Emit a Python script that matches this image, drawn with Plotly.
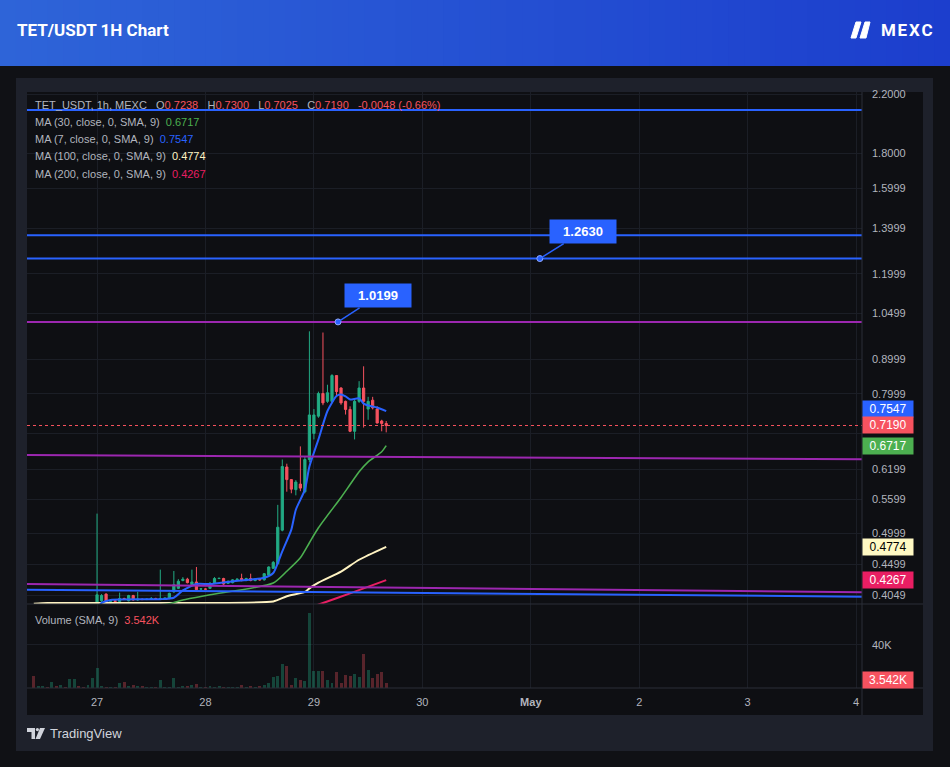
import math
import pandas as pd
import plotly.graph_objects as go

# ------------------------------------------------------------------ data
START = "2024-04-26 10:00"          # first hourly candle
opens = [0.392, 0.386, 0.387, 0.3875, 0.387, 0.390, 0.389, 0.391, 0.388, 0.389,
         0.392, 0.390, 0.389, 0.390, 0.388, 0.398, 0.407, 0.397, 0.398, 0.397,
         0.401, 0.398, 0.405, 0.399, 0.400, 0.3995, 0.400, 0.401, 0.400, 0.401,
         0.401, 0.410, 0.415, 0.426, 0.428, 0.420, 0.424, 0.414, 0.414, 0.415,
         0.422, 0.429, 0.429, 0.422, 0.423, 0.427, 0.429, 0.426, 0.429, 0.426,
         0.428, 0.427, 0.434, 0.444, 0.451, 0.505, 0.625, 0.599, 0.579, 0.590,
         0.575, 0.641, 0.700, 0.742, 0.801, 0.780, 0.780, 0.851, 0.816, 0.780,
         0.759, 0.705, 0.780, 0.816, 0.760, 0.783, 0.760, 0.730, 0.7238]
highs = [0.393, 0.388, 0.388, 0.388, 0.391, 0.391, 0.392, 0.392, 0.393, 0.393,
         0.393, 0.391, 0.392, 0.393, 0.534, 0.407, 0.408, 0.399, 0.399, 0.409,
         0.402, 0.406, 0.406, 0.410, 0.401, 0.401, 0.403, 0.402, 0.442, 0.402,
         0.409, 0.440, 0.428, 0.431, 0.430, 0.442, 0.446, 0.415, 0.415, 0.424,
         0.431, 0.430, 0.430, 0.426, 0.428, 0.429, 0.436, 0.430, 0.436, 0.429,
         0.429, 0.437, 0.447, 0.455, 0.550, 0.641, 0.632, 0.600, 0.598, 0.670,
         0.648, 0.988, 0.760, 0.806, 0.984, 0.825, 0.855, 0.851, 0.818, 0.782,
         0.767, 0.785, 0.835, 0.878, 0.792, 0.792, 0.767, 0.733, 0.7300]
lows = [0.385, 0.385, 0.386, 0.386, 0.386, 0.388, 0.388, 0.389, 0.386, 0.387,
        0.389, 0.388, 0.388, 0.388, 0.386, 0.396, 0.396, 0.395, 0.396, 0.396,
        0.399, 0.397, 0.398, 0.398, 0.399, 0.399, 0.399, 0.400, 0.399, 0.400,
        0.400, 0.409, 0.414, 0.425, 0.422, 0.419, 0.412, 0.413, 0.413, 0.414,
        0.421, 0.428, 0.420, 0.421, 0.422, 0.426, 0.425, 0.425, 0.425, 0.425,
        0.426, 0.426, 0.433, 0.443, 0.450, 0.503, 0.575, 0.572, 0.568, 0.576,
        0.572, 0.635, 0.686, 0.738, 0.770, 0.776, 0.775, 0.794, 0.771, 0.746,
        0.703, 0.686, 0.776, 0.714, 0.733, 0.759, 0.724, 0.705, 0.7025]
closes = [0.386, 0.387, 0.3875, 0.387, 0.390, 0.389, 0.391, 0.390, 0.391, 0.392,
          0.390, 0.389, 0.391, 0.392, 0.406, 0.405, 0.397, 0.398, 0.397, 0.401,
          0.400, 0.405, 0.399, 0.400, 0.3995, 0.400, 0.401, 0.4005, 0.401, 0.4015,
          0.408, 0.420, 0.425, 0.428, 0.423, 0.424, 0.413, 0.4142, 0.4138, 0.422,
          0.429, 0.4292, 0.421, 0.425, 0.427, 0.428, 0.426, 0.429, 0.426, 0.428,
          0.427, 0.436, 0.446, 0.453, 0.510, 0.626, 0.599, 0.580, 0.594, 0.582,
          0.641, 0.745, 0.745, 0.801, 0.776, 0.803, 0.851, 0.806, 0.776, 0.759,
          0.705, 0.780, 0.816, 0.780, 0.780, 0.763, 0.725, 0.724, 0.7190]
volumes = [11400, 2000, 1500, 1000, 5800, 1500, 3000, 1000, 8600, 8600,
           2000, 1000, 3000, 9000, 19000, 2000, 1000, 1000, 1000, 4500,
           5800, 1500, 2800, 1500, 2000, 1000, 1000, 1000, 7700, 1000,
           1000, 9000, 1000, 2000, 1500, 2800, 4000, 1000, 800, 1500,
           1000, 1500, 1000, 1200, 1000, 1000, 2500, 1000, 1500, 1000,
           2000, 3000, 5000, 10000, 11000, 22500, 20000, 3000, 9500, 7700,
           6800, 70000, 16000, 15700, 16000, 7700, 5000, 15000, 4600, 12000,
           10800, 13000, 10000, 31700, 17000, 9500, 13000, 15000, 4600]

# moving averages (hour index from first candle, value)
ma7_hours = [0, 14, 15, 17, 28, 31, 33, 36, 39, 44, 51, 53, 54, 55, 57, 58, 60, 61,
             63, 65, 67, 68, 69, 70, 72, 73, 74, 76, 78]
ma7_values = [0.386, 0.389, 0.395, 0.399, 0.400, 0.402, 0.412, 0.421, 0.421, 0.425,
              0.430, 0.437, 0.452, 0.470, 0.506, 0.541, 0.579, 0.626, 0.686, 0.755,
              0.794, 0.798, 0.793, 0.785, 0.788, 0.774, 0.769, 0.764, 0.7547]
ma30_hours = [0, 20, 30, 33, 39, 53, 56, 59, 61, 63, 68, 70, 72, 74, 77, 78]
ma30_values = [0.380, 0.388, 0.394, 0.399, 0.406, 0.4224, 0.4396, 0.460, 0.484,
               0.509, 0.564, 0.589, 0.615, 0.636, 0.658, 0.6717]
ma100_hours = [0, 3, 37, 53, 56, 60, 61, 63, 68, 72, 78]
ma100_values = [0.394, 0.3949, 0.395, 0.397, 0.404, 0.410, 0.415, 0.423, 0.439,
                0.457, 0.4774]
ma200_hours = [55, 64, 70, 78]
ma200_values = [0.376, 0.395, 0.408, 0.4267]

price_tick_values = [2.2, 1.8, 1.5999, 1.3999, 1.1999, 1.0499, 0.8999, 0.7999,
                     0.6999, 0.6199, 0.5599, 0.4999, 0.4499, 0.4049]
hidden_price_ticks = [0.6999]       # covered by the price boxes in the reference
date_tick_values = ["2024-04-27", "2024-04-28", "2024-04-29", "2024-04-30",
                    "2024-05-01", "2024-05-02", "2024-05-03", "2024-05-04"]
date_tick_labels = ["27", "28", "29", "30", "<b>May</b>", "2", "3", "4"]
volume_tick_values = [40000]
volume_tick_labels = ["40K"]

view_start, view_end = "2024-04-26 08:30", "2024-05-04 01:18"
price_low, price_high = 0.3936, 2.216
volume_top = 78000

# user drawings: [value at left edge, value at right edge]
blue_levels = [[2.085, 2.085], [1.3666, 1.3666], [1.2630, 1.2630], [0.4131, 0.4035]]
purple_levels = [[1.0199, 1.0199], [0.6507, 0.6413], [0.4211, 0.4095]]
note_times = ["2024-04-29 05:20", "2024-05-01 02:00"]
note_values = [1.0199, 1.2630]

last_open, last_high, last_low, last_close = 0.7238, 0.7300, 0.7025, 0.7190
last_change, last_change_pct = -0.0048, -0.66
ma30_last, ma7_last, ma100_last, ma200_last = 0.6717, 0.7547, 0.4774, 0.4267
volume_sma_last = 3542

# ------------------------------------------------------------------ styling
UP, DOWN = "#22ab84", "#f7525f"
BLUE, PURPLE = "#2962ff", "#9c27b0"
MA30_C, MA100_C, MA200_C = "#4caf50", "#fff3c2", "#e91e63"
TXT = "#b2b5be"
GRID = "#1b1e26"
FONT = "Liberation Sans"

times = pd.date_range(START, periods=len(closes), freq="h")


def hours_to_times(hours):
    return [times[h] for h in hours]


# pixel -> paper helpers (plot area 27..862 x 92..688)
L, R, T, B = 27, 862, 92, 688


def px(x):
    return (x - L) / (R - L)


def py(y):
    return (B - y) / (B - T)


fig = go.Figure()

# volume
vol_colors = ["rgba(34,171,132,0.35)" if c >= o else "rgba(247,82,95,0.32)"
              for o, c in zip(opens, closes)]
fig.add_trace(go.Bar(x=times, y=volumes, marker=dict(color=vol_colors, line_width=0),
                     width=0.66 * 3600 * 1000, yaxis="y2", hoverinfo="skip"))

# candles
fig.add_trace(go.Candlestick(
    x=times, open=opens, high=highs, low=lows, close=closes,
    increasing=dict(line=dict(color=UP, width=1), fillcolor=UP),
    decreasing=dict(line=dict(color=DOWN, width=1), fillcolor=DOWN),
    whiskerwidth=0, hoverinfo="skip"))

# moving averages
for hrs, vals, col, w in [(ma200_hours, ma200_values, MA200_C, 2),
                          (ma100_hours, ma100_values, MA100_C, 2),
                          (ma30_hours, ma30_values, MA30_C, 1.6),
                          (ma7_hours, ma7_values, BLUE, 2)]:
    fig.add_trace(go.Scatter(x=hours_to_times(hrs), y=vals, mode="lines",
                             line=dict(color=col, width=w, shape="spline", smoothing=0.6),
                             hoverinfo="skip"))

# drawings
for lv in blue_levels:
    fig.add_trace(go.Scatter(x=[view_start, view_end], y=lv, mode="lines",
                             line=dict(color=BLUE, width=2), hoverinfo="skip"))
for lv in purple_levels:
    fig.add_trace(go.Scatter(x=[view_start, view_end], y=lv, mode="lines",
                             line=dict(color=PURPLE, width=2), hoverinfo="skip"))

# current price dotted line
fig.add_trace(go.Scatter(x=[view_start, view_end], y=[last_close, last_close], mode="lines",
                         line=dict(color=DOWN, width=1, dash="dot"), hoverinfo="skip"))

# note anchor points
fig.add_trace(go.Scatter(x=note_times, y=note_values, mode="markers",
                         marker=dict(color=BLUE, size=6, line=dict(color="#8fa9ff", width=1)),
                         hoverinfo="skip"))

# ------------------------------------------------------------------ shapes
shapes = []
# header gradient
N = 60
c0, c1 = (46, 100, 216), (28, 62, 205)
for k in range(N):
    t = k / (N - 1)
    col = "rgb(%d,%d,%d)" % tuple(round(a + (b - a) * t) for a, b in zip(c0, c1))
    shapes.append(dict(type="rect", xref="paper", yref="paper",
                       x0=px(950 * k / N), x1=px(950 * (k + 1) / N + 1),
                       y0=py(0), y1=py(66), fillcolor=col, line_width=0, layer="below"))
# frame and inner panel
shapes.append(dict(type="rect", xref="paper", yref="paper", x0=px(16), x1=px(933),
                   y0=py(78), y1=py(751), fillcolor="#1e212b", line_width=0, layer="below"))
shapes.append(dict(type="rect", xref="paper", yref="paper", x0=px(27), x1=px(923),
                   y0=py(92), y1=py(715), fillcolor="#0e0f13", line_width=0, layer="below"))
# separators
for y in (604, 688):
    shapes.append(dict(type="line", xref="paper", yref="paper", x0=px(27), x1=px(923),
                       y0=py(y), y1=py(y), line=dict(color="#2a2e39", width=1)))
shapes.append(dict(type="line", xref="paper", yref="paper", x0=px(862), x1=px(862),
                   y0=py(92), y1=py(715), line=dict(color="#2a2e39", width=1)))
# MEXC logo glyph
shapes.append(dict(type="path", xref="paper", yref="paper",
                   path="M %f %f L %f %f L %f %f L %f %f Z" % (
                       px(851), py(38), px(856), py(22), px(861), py(22), px(856), py(38)),
                   fillcolor="white", line=dict(color="white", width=1)))
shapes.append(dict(type="path", xref="paper", yref="paper",
                   path="M %f %f L %f %f L %f %f L %f %f Z" % (
                       px(860), py(38), px(865), py(22), px(870), py(22), px(866), py(38)),
                   fillcolor="white", line=dict(color="white", width=1)))
# TradingView logo glyph
shapes.append(dict(type="path", xref="paper", yref="paper",
                   path="M %f %f L %f %f L %f %f L %f %f L %f %f L %f %f Z" % (
                       px(27), py(728), px(35), py(728), px(35), py(739),
                       px(31.5), py(739), px(31.5), py(732), px(27), py(732)),
                   fillcolor="#d1d4dc", line_width=0))
shapes.append(dict(type="circle", xref="paper", yref="paper", x0=px(35.8), x1=px(39),
                   y0=py(728), y1=py(731.2), fillcolor="#d1d4dc", line_width=0))
shapes.append(dict(type="path", xref="paper", yref="paper",
                   path="M %f %f L %f %f L %f %f L %f %f Z" % (
                       px(40), py(728), px(45), py(728), px(40), py(739), px(35.5), py(739)),
                   fillcolor="#d1d4dc", line_width=0))

# ------------------------------------------------------------------ annotations
ann = []


def span(txt, col):
    return "<span style='color:%s'>%s</span>" % (col, txt)


sp = "\u00a0\u00a0\u00a0"
leg1 = ("TET_USDT, 1h, MEXC" + sp + "O" + span("%.4f" % last_open, DOWN) + sp + "H" +
        span("%.4f" % last_high, DOWN) + sp + "L" + span("%.4f" % last_low, DOWN) + sp +
        "C" + span("%.4f" % last_close, DOWN) + sp +
        span("%.4f (%.2f%%)" % (last_change, last_change_pct), DOWN))
legend_lines = [
    (leg1, 105),
    ("MA (30, close, 0, SMA, 9)\u00a0\u00a0" + span("%.4f" % ma30_last, MA30_C), 122),
    ("MA (7, close, 0, SMA, 9)\u00a0\u00a0" + span("%.4f" % ma7_last, BLUE), 139),
    ("MA (100, close, 0, SMA, 9)\u00a0\u00a0" + span("%.4f" % ma100_last, MA100_C), 156),
    ("MA (200, close, 0, SMA, 9)\u00a0\u00a0" + span("%.4f" % ma200_last, MA200_C), 174),
    ("Volume (SMA, 9)\u00a0\u00a0" + span("%.3fK" % (volume_sma_last / 1000), DOWN), 620),
]
for txt, y in legend_lines:
    ann.append(dict(xref="paper", yref="paper", x=px(33), y=py(y), text=txt,
                    showarrow=False, xanchor="left", yanchor="middle",
                    font=dict(family=FONT, size=11, color=TXT)))

# header
ann.append(dict(xref="paper", yref="paper", x=px(15), y=py(30), text="<b>TET/USDT 1H Chart</b>",
                showarrow=False, xanchor="left", yanchor="middle",
                font=dict(family="Roboto", size=17, color="white")))
ann.append(dict(xref="paper", yref="paper", x=px(935), y=py(30),
                text="<b>M\u200aE\u200aX\u200aC</b>", showarrow=False, xanchor="right",
                yanchor="middle", font=dict(family="Roboto", size=17, color="white")))
ann.append(dict(xref="paper", yref="paper", x=px(48), y=py(733), text="TradingView",
                showarrow=False, xanchor="left", yanchor="middle",
                font=dict(family=FONT, size=13, color="#d1d4dc")))

# price notes
for t, v, ax, ay in [(note_times[0], note_values[0], 40, -26),
                     (note_times[1], note_values[1], 43, -27)]:
    ann.append(dict(xref="x", yref="y", x=t, y=math.log10(v), text="<b>%.4f</b>" % v,
                    showarrow=True, arrowhead=0, arrowwidth=1.5, arrowcolor=BLUE,
                    ax=ax, ay=ay, standoff=0, bgcolor=BLUE, borderpad=4,
                    width=58, height=15, font=dict(family=FONT, size=13, color="white")))

# axis price labels
for v, bg, fg, shift in [(ma7_last, BLUE, "white", 2), (last_close, DOWN, "white", 0),
                         (ma30_last, MA30_C, "white", 0), (ma100_last, "#fff9c4", "black", 0),
                         (ma200_last, MA200_C, "white", 0)]:
    ann.append(dict(xref="paper", yref="y", x=1, y=math.log10(v), text="%.4f" % v,
                    showarrow=False, xanchor="left", yanchor="middle", yshift=shift,
                    bgcolor=bg, borderpad=2, width=46, height=12,
                    font=dict(family=FONT, size=12, color=fg)))
ann.append(dict(xref="paper", yref="y2", x=1, y=volume_sma_last,
                text="%.3fK" % (volume_sma_last / 1000), showarrow=False, xanchor="left",
                yanchor="middle", yshift=4, bgcolor=DOWN, borderpad=2, width=46, height=12,
                font=dict(family=FONT, size=12, color="white")))

fig.update_layout(
    width=950, height=767, autosize=False,
    margin=dict(l=L, r=950 - R, t=T, b=767 - B, pad=0),
    paper_bgcolor="#101115", plot_bgcolor="rgba(0,0,0,0)",
    showlegend=False, shapes=shapes, annotations=ann, bargap=0,
    font=dict(family=FONT, size=11, color=TXT),
    xaxis=dict(type="date", range=[view_start, view_end], anchor="y2",
               tickvals=date_tick_values, ticktext=date_tick_labels,
               showgrid=True, gridcolor=GRID, gridwidth=1, zeroline=False,
               showline=False, ticks="", ticklabelstandoff=6,
               tickfont=dict(family=FONT, size=11, color=TXT),
               rangeslider=dict(visible=False), fixedrange=True),
    yaxis=dict(type="log", range=[math.log10(price_low), math.log10(price_high)],
               domain=[py(604), 1], side="right", anchor="x",
               tickvals=price_tick_values,
               ticktext=["" if v in hidden_price_ticks else "%.4f" % v
                         for v in price_tick_values],
               showgrid=True, gridcolor=GRID, zeroline=False, showline=False,
               ticks="", ticklabelstandoff=9,
               tickfont=dict(family=FONT, size=11, color=TXT)),
    yaxis2=dict(range=[0, volume_top], domain=[0, py(604)], side="right", anchor="x",
                tickvals=volume_tick_values, ticktext=volume_tick_labels,
                showgrid=True, gridcolor=GRID, zeroline=False, showline=False,
                ticks="", ticklabelstandoff=9,
                tickfont=dict(family=FONT, size=11, color=TXT)),
)

fig.write_html("out.html", config={"displayModeBar": False},
               post_script="document.body.style.margin='0';document.body.style.padding='0';")
